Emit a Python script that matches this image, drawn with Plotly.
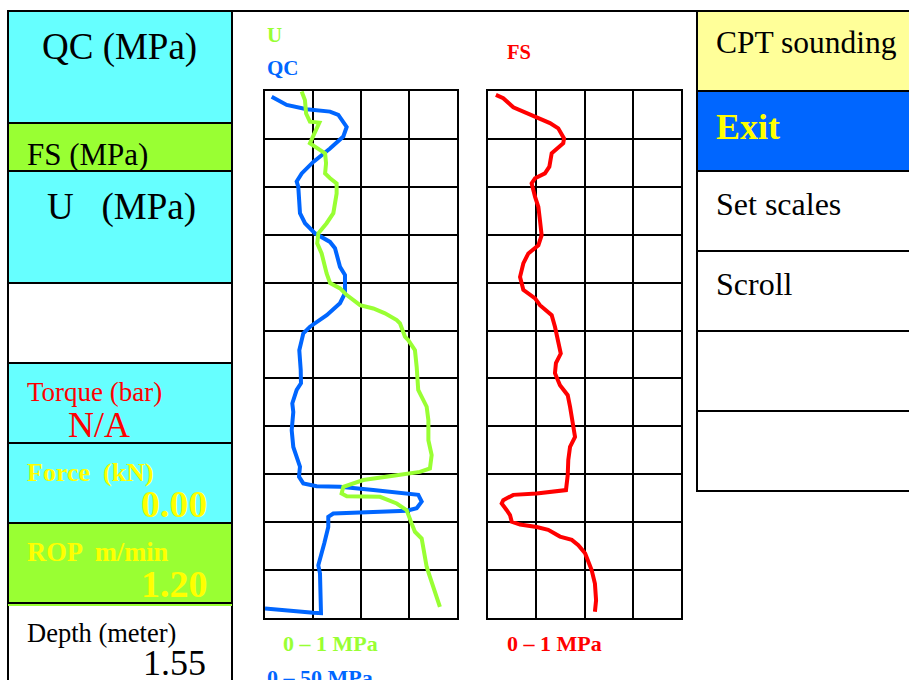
import plotly.graph_objects as go

# ---------------- data (depth in m, values in MPa) ----------------
qc_depth = [0.012, 0.029, 0.038, 0.043, 0.050, 0.075, 0.095, 0.120, 0.148, 0.172,
            0.189, 0.200, 0.255, 0.276, 0.297, 0.315, 0.328, 0.367, 0.384, 0.422,
            0.443, 0.468, 0.492, 0.506, 0.520, 0.541, 0.582, 0.610, 0.624, 0.652,
            0.670, 0.708, 0.743, 0.784, 0.805, 0.819, 0.825, 0.826, 0.833, 0.840,
            0.843, 0.857, 0.871, 0.876, 0.880, 0.882, 0.889, 0.910, 0.944, 0.990,
            1.007, 1.049, 1.090, 1.089, 1.084, 1.080]
qc_values = [1.74, 5.65, 10.86, 16.93, 19.09, 21.27, 20.39, 16.93, 12.58, 9.56,
             8.25, 8.67, 9.11, 10.42, 13.02, 16.93, 18.23, 19.53, 20.83, 20.83,
             19.53, 16.07, 11.72, 9.97, 9.56, 8.93, 9.30, 9.37, 8.25, 7.11,
             7.37, 6.95, 7.37, 9.11, 8.85, 9.97, 13.46, 19.53, 28.20, 36.01,
             39.92, 40.80, 39.50, 36.90, 25.60, 17.79, 16.48, 16.48, 15.44, 13.88,
             14.32, 14.50, 14.58, 12.58, 6.51, 0.0]

u_depth = [0.001, 0.019, 0.047, 0.064, 0.066, 0.085, 0.109, 0.116, 0.130, 0.151,
           0.172, 0.182, 0.193, 0.214, 0.255, 0.276, 0.297, 0.318, 0.339, 0.381,
           0.401, 0.412, 0.426, 0.447, 0.454, 0.464, 0.478, 0.485, 0.513, 0.520,
           0.541, 0.576, 0.624, 0.659, 0.687, 0.729, 0.760, 0.788, 0.795, 0.802,
           0.812, 0.826, 0.840, 0.846, 0.847, 0.861, 0.875, 0.903, 0.920, 0.934,
           0.993, 1.014, 1.063, 1.077]
u_values = [0.191, 0.208, 0.214, 0.234, 0.283, 0.260, 0.234, 0.260, 0.313, 0.318,
            0.313, 0.339, 0.373, 0.373, 0.356, 0.321, 0.278, 0.272, 0.295, 0.321,
            0.339, 0.391, 0.426, 0.495, 0.564, 0.625, 0.686, 0.703, 0.729, 0.746,
            0.781, 0.790, 0.798, 0.842, 0.851, 0.851, 0.868, 0.859, 0.807, 0.686,
            0.512, 0.408, 0.399, 0.426, 0.599, 0.686, 0.738, 0.764, 0.781, 0.816,
            0.842, 0.859, 0.903, 0.911]

fs_depth = [0.008, 0.015, 0.034, 0.042, 0.054, 0.067, 0.078, 0.099, 0.109, 0.120,
            0.130, 0.158, 0.172, 0.182, 0.193, 0.221, 0.242, 0.269, 0.301, 0.322,
            0.339, 0.360, 0.388, 0.415, 0.433, 0.447, 0.468, 0.492, 0.516, 0.548,
            0.568, 0.589, 0.614, 0.635, 0.659, 0.694, 0.722, 0.743, 0.770, 0.802,
            0.833, 0.840, 0.843, 0.854, 0.861, 0.875, 0.885, 0.899, 0.905, 0.910,
            0.916, 0.930, 0.937, 0.948, 0.965, 1.000, 1.028, 1.063, 1.087]
fs_values = [0.041, 0.079, 0.131, 0.175, 0.252, 0.321, 0.364, 0.394, 0.390, 0.356,
             0.330, 0.318, 0.295, 0.244, 0.226, 0.244, 0.261, 0.269, 0.278, 0.261,
             0.209, 0.183, 0.166, 0.183, 0.244, 0.269, 0.330, 0.347, 0.359, 0.377,
             0.352, 0.347, 0.373, 0.413, 0.425, 0.442, 0.451, 0.425, 0.416, 0.413,
             0.404, 0.252, 0.131, 0.079, 0.071, 0.097, 0.114, 0.123, 0.166, 0.252,
             0.312, 0.373, 0.434, 0.468, 0.503, 0.537, 0.554, 0.560, 0.554]

depth_range = [1.1, 0.0]
depth_step = 0.1
qc_range = [0, 50]
u_range = [0, 1]
fs_range = [0, 1]

left_labels = ["QC (MPa)", "FS (MPa)", "U   (MPa)", "Torque (bar)", "N/A",
               "Force  (kN)", "0.00", "ROP  m/min", "1.20", "Depth (meter)", "1.55"]
right_labels = ["CPT sounding", "Exit", "Set scales", "Scroll"]

# ---------------- layout helpers ----------------
W, H = 909, 680
def px(x):
    return x / W
def py(y):
    return 1 - y / H

CYAN = "#66FFFF"
GREEN = "#99FF33"
BLUE = "#0066FF"
RED = "#FF0000"
YEL = "#FFFF00"
FONT = "Liberation Serif"

fig = go.Figure()
fig.add_trace(go.Scatter(x=u_values, y=u_depth, mode="lines", xaxis="x3", yaxis="y",
                         line=dict(color=GREEN, width=4), name="U"))
fig.add_trace(go.Scatter(x=qc_values, y=qc_depth, mode="lines", xaxis="x", yaxis="y",
                         line=dict(color=BLUE, width=4), name="QC"))
fig.add_trace(go.Scatter(x=fs_values, y=fs_depth, mode="lines", xaxis="x2", yaxis="y2",
                         line=dict(color=RED, width=4), name="FS"))

ax_style = dict(showgrid=True, gridcolor="black", gridwidth=2, showline=True, mirror=True,
                linecolor="black", linewidth=2, zeroline=False, showticklabels=False,
                ticks="", fixedrange=True)

shapes = []
def rect(x0, y0, x1, y1, fill, lc="black", lw=2):
    shapes.append(dict(type="rect", xref="paper", yref="paper", x0=px(x0), x1=px(x1),
                       y0=py(y1), y1=py(y0), fillcolor=fill, line=dict(color=lc, width=lw),
                       layer="below"))
def hline(x0, x1, y, color="black", w=2):
    shapes.append(dict(type="line", xref="paper", yref="paper", x0=px(x0), x1=px(x1),
                       y0=py(y), y1=py(y), line=dict(color=color, width=w)))

# left panel
for y0, y1, c in [(11, 123, CYAN), (123, 171, GREEN), (171, 283, CYAN), (283, 363, "white"),
                  (363, 443, CYAN), (443, 523, CYAN), (523, 603, GREEN), (605, 700, "white")]:
    rect(8, y0, 232, y1, c)
hline(8, 232, 605, GREEN, 2)
# right panel
for y0, y1, c in [(11, 91, "#FFFF99"), (91, 171, BLUE), (171, 251, "white"), (251, 331, "white"),
                  (331, 411, "white"), (411, 491, "white")]:
    rect(697, y0, 915, y1, c)
hline(8, 909, 11, "black", 2)

ann = []
def text(x, y, s, size, color="black", bold=False, anchor="left"):
    ann.append(dict(x=px(x), y=py(y), xref="paper", yref="paper", text=f"<b>{s}</b>" if bold else s,
                    showarrow=False, xanchor=anchor, yanchor="middle",
                    xshift=-3 if anchor == "left" else 3,
                    font=dict(family=FONT, size=size, color=color)))

text(43, 47, left_labels[0], 37)
text(28, 155, left_labels[1], 31)
text(48, 207, left_labels[2], 37)
text(28, 392, left_labels[3], 27, RED)
text(69, 425, left_labels[4], 36, RED)
text(28, 472, left_labels[5], 26, YEL, True)
text(207, 504, left_labels[6], 38, YEL, True, "right")
text(28, 552, left_labels[7], 26.5, YEL, True)
text(207, 584, left_labels[8], 38, YEL, True, "right")
text(28, 633, left_labels[9], 26.5)
text(205, 663, left_labels[10], 36, "black", False, "right")

text(717, 42, right_labels[0], 31.5)
text(717, 127, right_labels[1], 36, YEL, True)
text(717, 204, right_labels[2], 32)
text(717, 284, right_labels[3], 32)

text(268, 35, "U", 21, GREEN, True)
text(268, 68, "QC", 21, BLUE, True)
text(508, 52, "FS", 20.5, RED, True)
text(284, 643, "0 – 1 MPa", 22, GREEN, True)
text(268, 677, "0 – 50 MPa", 22, BLUE, True)
text(508, 643, "0 – 1 MPa", 22, RED, True)

fig.update_layout(
    width=W, height=H, margin=dict(l=0, r=0, t=0, b=0),
    paper_bgcolor="white", plot_bgcolor="white", showlegend=False,
    xaxis=dict(domain=[px(265), px(457)], range=qc_range, dtick=12.5, tick0=0, anchor="y", **ax_style),
    xaxis3=dict(overlaying="x", range=u_range, visible=False, anchor="y", fixedrange=True),
    yaxis=dict(domain=[py(618), py(91)], range=depth_range, dtick=depth_step, tick0=0, anchor="x", **ax_style),
    xaxis2=dict(domain=[px(488), px(681)], range=fs_range, dtick=0.25, tick0=0, anchor="y2", **ax_style),
    yaxis2=dict(domain=[py(618), py(91)], range=depth_range, dtick=depth_step, tick0=0, anchor="x2", **ax_style),
    shapes=shapes, annotations=ann,
)

fig.write_html("out.html", config={"displayModeBar": False},
               post_script="document.body.style.margin='0';document.body.style.overflow='hidden';")
